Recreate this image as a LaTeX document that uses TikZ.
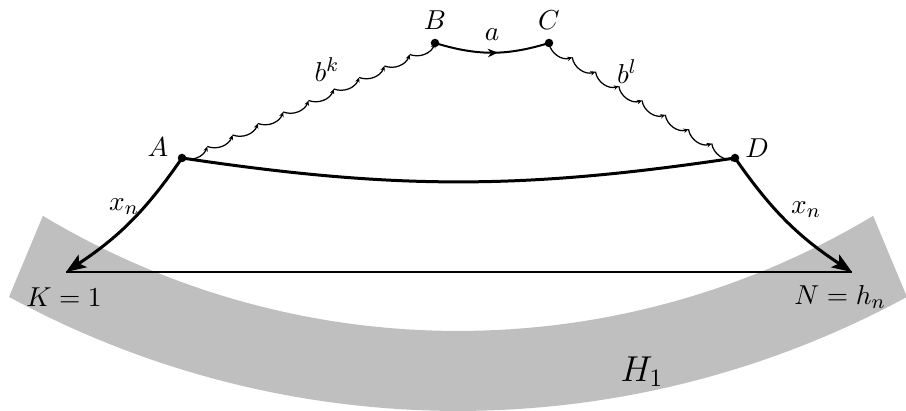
\documentclass[tikz,border=0pt]{standalone}
\usetikzlibrary{arrows.meta,calc,decorations.markings}
\begin{document}
\begin{tikzpicture}[x=0.4pt,y=-0.4pt,
  dot/.style={circle,fill=black,inner sep=0pt,minimum size=3.4pt},
  lbl/.style={inner sep=0pt,font=\fontsize{11}{13}\selectfont},
  thickline/.style={line width=1.2pt},
  bigarrow/.style={thickline,-{Stealth[length=8pt,width=6pt,inset=1.8pt]}},
  wavy/.style={line width=0.5pt,-{Stealth[length=2pt,width=1.8pt]}},
  midarrow/.style={decoration={markings,mark=at position 0.55 with {\arrow{Stealth[length=4pt,width=3.4pt]}}},postaction={decorate}}]
\useasboundingbox (0,0) rectangle (906,411);
% gray band
\fill[gray!50] plot[domain=-31:31,samples=60] ({458+806*sin(\x)},{-475+806*cos(\x)})
  -- plot[domain=28.5:-28.5,samples=60] ({458+941*sin(\x)},{-530+941*cos(\x)}) -- cycle;
% points
\node[dot] (A) at (182,158) {};
\node[dot] (B) at (435,43) {};
\node[dot] (C) at (549,43) {};
\node[dot] (D) at (735,158) {};
\coordinate (K) at (66,272);
\coordinate (N) at (852,272);
% connectors
\draw[line width=0.55pt] (K) -- (N);
\draw[thickline] (A.center) to[bend right=8.5] (D.center);
\draw[bigarrow] (A.center) to[bend left=11] (K);
\draw[bigarrow] (D.center) to[bend right=11] (N);
\draw[line width=0.8pt,midarrow] (B.center) to[bend right=17] (C.center);
\foreach \i in {0,...,9}{
  \pgfmathsetmacro\j{\i+1}
  \draw[wavy] ($(A.center)!\i/10!(B.center)$) to[bend right=45] ($(A.center)!\j/10!(B.center)$);
}
\foreach \i in {0,...,7}{
  \pgfmathsetmacro\j{\i+1}
  \draw[wavy] ($(C.center)!\i/8!(D.center)$) to[bend right=50] ($(C.center)!\j/8!(D.center)$);
}
% labels
\node[lbl] (lA) at (158,147) {$A$};
\node[lbl] (lB) at (435,20) {$B$};
\node[lbl] (lC) at (549,20) {$C$};
\node[lbl] (lD) at (757,148) {$D$};
\node[lbl] (la) at (492,35) {$a$};
\node[lbl] (lbk) at (327,70) {$b^k$};
\node[lbl] (lbl) at (627,72) {$b^l$};
\node[lbl] (lx1) at (124,207) {$x_n$};
\node[lbl] (lx2) at (806,210) {$x_n$};
\node[lbl] (lK) at (64,297) {$K=1$};
\node[lbl] (lN) at (840,297) {$N=h_n$};
\node[lbl,font=\fontsize{14}{17}\selectfont] (lH) at (642,372) {$H_1$};
\end{tikzpicture}
\end{document}
